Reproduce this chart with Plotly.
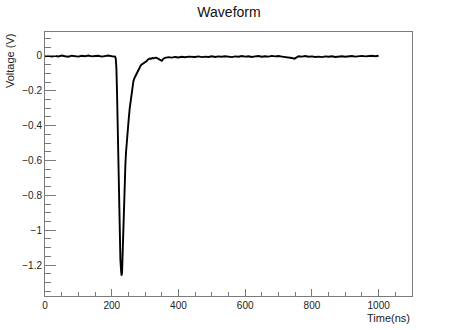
import plotly.graph_objects as go

# Waveform samples (time in ns, voltage in V)
time_ns = [
    0, 10, 20, 30, 40, 50, 60, 70, 80, 90, 100, 110, 120, 130, 140, 150, 160, 170, 180, 190, 200,
    205, 210, 212, 214, 216, 218, 220, 222, 224, 226, 228, 229.5, 231, 233, 235, 237, 239, 241, 243,
    245, 248, 251, 254, 257, 260, 263, 265, 268, 271, 274, 277, 280, 283, 286, 289, 292, 295, 298,
    302, 305, 308, 311, 314, 318, 322, 326, 330, 335, 340, 345, 350, 355,
    360, 370, 380, 390, 400, 410, 420, 430, 440, 450, 460, 470, 480, 490, 500, 510, 520, 530, 540,
    550, 560, 570, 580, 590, 600, 610, 620, 630, 640, 650, 660, 670, 680, 690, 700, 710, 720, 730,
    740, 748, 755, 760, 770, 780, 790, 800, 810, 820, 830, 840, 850, 860, 870, 880, 890, 900, 910,
    920, 930, 940, 950, 960, 970, 980, 990, 1000,
]
voltage_v = [
    -0.002, 0.001, -0.004, 0.000, -0.003, 0.002, -0.002, -0.005, 0.001, -0.001, -0.004, 0.001,
    -0.002, 0.002, -0.003, -0.001, 0.001, -0.004, 0.000, 0.002, -0.002,
    -0.001, -0.004, -0.015, -0.07, -0.22, -0.45, -0.70, -0.93, -1.07, -1.17, -1.23, -1.26, -1.24,
    -1.08, -0.94, -0.80, -0.70, -0.62, -0.55,
    -0.49, -0.42, -0.36, -0.30, -0.255, -0.215, -0.17, -0.145, -0.128, -0.115, -0.10, -0.088,
    -0.078, -0.068, -0.058, -0.050, -0.047, -0.044, -0.040,
    -0.034, -0.030, -0.022, -0.018, -0.015, -0.016, -0.012, -0.014, -0.010, -0.012, -0.016,
    -0.024, -0.028, -0.016,
    -0.011, -0.007, -0.010, -0.006, -0.009, -0.005, -0.008, -0.004, -0.007, -0.006, -0.003,
    -0.007, -0.004, -0.006, -0.002, -0.006, -0.003, -0.005, -0.002,
    -0.004, -0.007, -0.003, -0.005, -0.001, -0.004, -0.002, -0.006, -0.003, -0.001, -0.005,
    -0.002, -0.004, 0.000, -0.003, -0.001, -0.004, -0.006, -0.008,
    -0.012, -0.016, -0.008, -0.002, -0.004, -0.001, -0.005, -0.003, -0.006, -0.004, -0.007,
    -0.003, -0.005, -0.002, -0.006, -0.004, -0.002, -0.005, -0.003,
    -0.001, -0.004, -0.002, 0.000, -0.003, -0.001, 0.001, -0.002, 0.001,
]

title_text = "Waveform"
x_title = "Time(ns)"
y_title = "Voltage (V)"

FONT = "Liberation Sans, Arial, sans-serif"

fig = go.Figure(
    go.Scatter(
        x=time_ns, y=voltage_v, mode="lines",
        line=dict(color="black", width=1.9),
        hoverinfo="skip",
    )
)

axis_common = dict(
    showgrid=False, zeroline=False, showline=True, mirror=True,
    linecolor="#7a7a7a", linewidth=1, automargin=False,
    ticks="inside", tickcolor="#7a7a7a", tickwidth=1,
    tickfont=dict(family=FONT, size=10, color="#222"),
)

fig.update_layout(
    width=458, height=330,
    margin=dict(l=45, r=46, t=32, b=34, autoexpand=False),
    paper_bgcolor="white", plot_bgcolor="white",
    showlegend=False,
    hovermode=False,
    title=dict(
        text=title_text, x=0.5, xref="container", xanchor="center",
        y=1 - 12 / 330, yref="container", yanchor="middle",
        font=dict(family=FONT, size=14, color="#111"),
    ),
    xaxis=dict(
        range=[0, 1100], tick0=0, dtick=200, ticklen=7,
        minor=dict(ticks="inside", dtick=50, ticklen=4, tickcolor="#7a7a7a"),
        **axis_common,
    ),
    yaxis=dict(
        range=[-1.377, 0.137], tick0=0, dtick=0.2, ticklen=11,
        minor=dict(ticks="inside", dtick=0.05, ticklen=6, tickcolor="#7a7a7a"),
        **axis_common,
    ),
    annotations=[
        dict(
            text=x_title, xref="paper", yref="paper", x=1, y=-22 / 264,
            xanchor="right", yanchor="middle", showarrow=False,
            font=dict(family=FONT, size=11, color="#222"),
        ),
        dict(
            text=y_title, xref="paper", yref="paper", x=-35 / 367, y=1,
            xanchor="center", yanchor="top", textangle=-90, showarrow=False,
            font=dict(family=FONT, size=11, color="#222"),
        ),
    ],
)

fig.write_html(
    "out.html",
    config={"displayModeBar": False, "staticPlot": True},
    post_script="document.body.style.margin='0';document.body.style.overflow='hidden';",
)
